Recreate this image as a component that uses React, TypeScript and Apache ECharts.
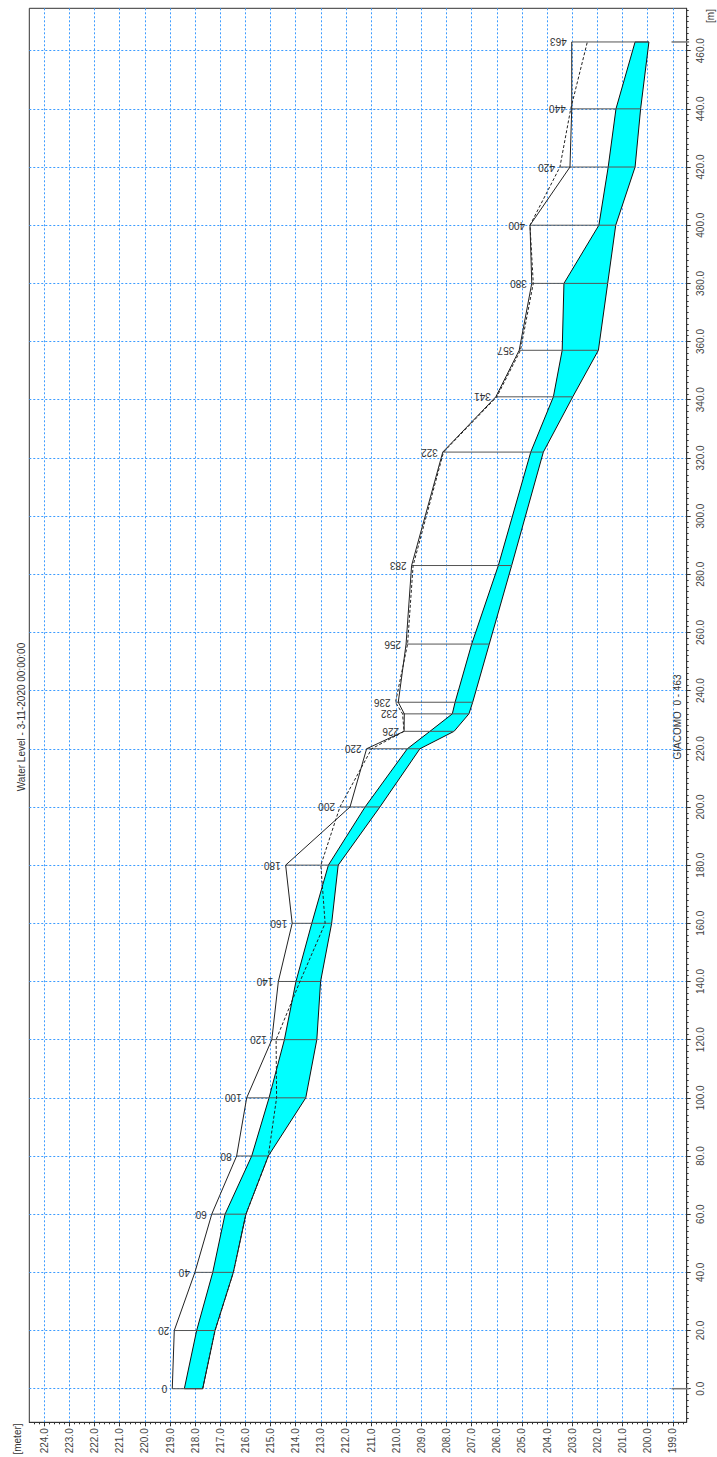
import React, { useEffect, useRef } from 'react';
import * as echarts from 'echarts';

// Cross-section chainages [m] and their labels
const chainages = [0, 20, 40, 60, 80, 100, 120, 140, 160, 180, 200, 220, 226, 232, 236, 256, 283, 322, 341, 357, 380, 400, 420, 440, 463];
const sectionLabels = ['0', '20', '40', '60', '80', '100', '120', '140', '160', '180', '200', '220', '226', '232', '236', '256', '283', '322', '341', '357', '380', '400', '420', '440', '463'];
// Bank levels [meter]
const leftBank = [218.91, 218.83, 218.01, 217.34, 216.35, 215.95, 214.95, 214.69, 214.14, 214.40, 211.84, 211.18, 209.69, 209.68, 209.92, 209.61, 209.39, 208.15, 206.04, 205.11, 204.61, 204.68, 203.09, 203.02, 203.02];
const rightBank = [217.70, 217.21, 216.48, 215.98, 215.09, 214.76, 214.78, 213.83, 212.83, 213.00, 212.24, 210.98, 209.69, 209.75, 210.03, 209.55, 209.33, 208.12, 206.00, 205.06, 204.55, 204.68, 203.49, 203.06, 202.40];
// Water surface and bed levels [meter]
const waterLevel = [218.43, 217.94, 217.30, 216.81, 215.75, 215.06, 214.45, 213.99, 213.36, 212.70, 211.24, 209.56, 208.66, 207.77, 207.66, 207.00, 205.94, 204.65, 203.75, 203.40, 203.33, 201.94, 201.57, 201.26, 200.50];
const bedLevel = [217.70, 217.21, 216.48, 215.98, 215.09, 213.60, 213.16, 213.01, 212.57, 212.31, 210.65, 209.06, 207.70, 207.11, 206.96, 206.30, 205.41, 204.15, 202.98, 201.96, 201.59, 201.27, 200.50, 200.28, 199.95];
// Branch ends
const branchEnds = [0, 463];

// Axis ticks
const levelTicks = [224, 223, 222, 221, 220, 219, 218, 217, 216, 215, 214, 213, 212, 211, 210, 209, 208, 207, 206, 205, 204, 203, 202, 201, 200, 199];
const chainageTicks = [0, 20, 40, 60, 80, 100, 120, 140, 160, 180, 200, 220, 240, 260, 280, 300, 320, 340, 360, 380, 400, 420, 440, 460];
const levelMinorTicks: number[] = [];
for (let k = 1986; k <= 2246; k += 2) levelMinorTicks.push(k / 10);
const chainageMinorTicks: number[] = [];
for (let k = -10; k <= 474; k += 2) chainageMinorTicks.push(k);

const LEVEL_MIN = 198.447;
const LEVEL_MAX = 224.597;
const CH_MIN = -11.55;
const CH_MAX = 474.57;

const FONT = '"Liberation Sans", Arial, sans-serif';
const GRID_LINE = { show: true, lineStyle: { color: '#3d9cff', type: [2, 2] as any, width: 1 } };

export default function App() {
  const ref = useRef<HTMLDivElement>(null);
  useEffect(() => {
    if (!ref.current) return;
    const chart = echarts.init(ref.current, undefined, { renderer: 'svg' });
    const option: any = {
      animation: false,
      backgroundColor: '#ffffff',
      grid: { left: 29.3, top: 8.3, right: 30.3, bottom: 34.7, show: true, borderColor: '#333', borderWidth: 1, backgroundColor: 'transparent' },
      xAxis: [
        {
          type: 'value', inverse: true, min: LEVEL_MIN, max: LEVEL_MAX, position: 'bottom',
          axisLine: { show: true, onZero: false, lineStyle: { color: '#333' } },
          axisTick: { show: true, customValues: levelTicks, length: 4, lineStyle: { color: '#333' } },
          axisLabel: { customValues: levelTicks, rotate: 90, margin: 6, fontSize: 10, color: '#444', fontFamily: FONT, formatter: (v: number) => v.toFixed(1) },
          splitLine: GRID_LINE,
        },
        {
          type: 'value', inverse: true, min: LEVEL_MIN, max: LEVEL_MAX, position: 'bottom',
          axisLine: { show: false, onZero: false },
          axisTick: { show: true, customValues: levelMinorTicks, length: 2, lineStyle: { color: '#333' } },
          axisLabel: { show: false },
          splitLine: { show: false },
        },
      ],
      yAxis: [
        {
          type: 'value', min: CH_MIN, max: CH_MAX, position: 'right',
          axisLine: { show: true, onZero: false, lineStyle: { color: '#333' } },
          axisTick: { show: true, customValues: chainageTicks, length: 4, lineStyle: { color: '#333' } },
          axisLabel: { customValues: chainageTicks, rotate: 90, margin: 9, fontSize: 10, color: '#444', fontFamily: FONT, formatter: (v: number) => v.toFixed(1) },
          splitLine: GRID_LINE,
        },
        {
          type: 'value', min: CH_MIN, max: CH_MAX, position: 'right',
          axisLine: { show: false, onZero: false },
          axisTick: { show: true, customValues: chainageMinorTicks, length: 2, lineStyle: { color: '#333' } },
          axisLabel: { show: false },
          splitLine: { show: false },
        },
      ],
      graphic: [
        { type: 'text', x: 21, y: 717, rotation: Math.PI / 2, style: { text: 'Water Level - 3-11-2020 00:00:00', font: '10px ' + FONT, fill: '#333', align: 'center', verticalAlign: 'middle' } },
        { type: 'text', x: 17, y: 1439, rotation: Math.PI / 2, style: { text: '[meter]', font: '10px ' + FONT, fill: '#333', align: 'center', verticalAlign: 'middle' } },
        { type: 'text', x: 710, y: 16, rotation: Math.PI / 2, style: { text: '[m]', font: '10px ' + FONT, fill: '#333', align: 'center', verticalAlign: 'middle' } },
        { type: 'text', x: 677.5, y: 717, rotation: Math.PI / 2, style: { text: 'GIACOMO  0 - 463', font: '10px ' + FONT, fill: '#333', align: 'center', verticalAlign: 'middle' } },
      ],
      series: [
        {
          type: 'custom', name: 'water', z: 2,
          data: [[waterLevel[0], chainages[0]]],
          encode: { x: 0, y: 1 },
          renderItem: (_p: any, api: any) => {
            const pts: number[][] = [];
            for (let i = 0; i < chainages.length; i++) pts.push(api.coord([waterLevel[i], chainages[i]]));
            for (let i = chainages.length - 1; i >= 0; i--) pts.push(api.coord([bedLevel[i], chainages[i]]));
            return { type: 'polygon', shape: { points: pts }, style: { fill: '#00ffff', stroke: '#111', lineWidth: 1 } };
          },
        },
        {
          type: 'custom', name: 'sections', z: 3,
          data: chainages.map((c, i) => [bedLevel[i], c, Math.max(leftBank[i], rightBank[i]), i]),
          encode: { x: 0, y: 1 },
          renderItem: (_p: any, api: any) => {
            const c = api.value(1);
            const p0 = api.coord([api.value(2), c]);
            const p1 = api.coord([api.value(0), c]);
            const idx = api.value(3);
            return {
              type: 'group',
              children: [
                { type: 'line', shape: { x1: p0[0], y1: p0[1], x2: p1[0], y2: p1[1] }, style: { stroke: '#555', lineWidth: 1 } },
                { type: 'text', x: p0[0] - 5, y: p0[1], rotation: Math.PI, style: { text: sectionLabels[idx], font: '10px ' + FONT, fill: '#333', align: 'left', verticalAlign: 'middle' } },
              ],
            };
          },
        },
        {
          type: 'custom', name: 'branchEnds', z: 3,
          data: branchEnds.map((c) => [199.05, c]),
          encode: { x: 0, y: 1 },
          renderItem: (_p: any, api: any) => {
            const c = api.value(1);
            const p0 = api.coord([api.value(0), c]);
            const p1 = api.coord([198.35, c]);
            return { type: 'line', shape: { x1: p0[0], y1: p0[1], x2: p1[0], y2: p1[1] }, style: { stroke: '#777', lineWidth: 1.5 } };
          },
        },
        {
          type: 'line', name: 'Left bank', z: 4, symbol: 'none',
          data: chainages.map((c, i) => [leftBank[i], c]),
          lineStyle: { color: '#222', width: 1 },
        },
        {
          type: 'line', name: 'Right bank', z: 4, symbol: 'none',
          data: chainages.map((c, i) => [rightBank[i], c]),
          lineStyle: { color: '#222', width: 1, type: [3, 2] },
        },
      ],
    };
    chart.setOption(option);
    return () => chart.dispose();
  }, []);
  return <div ref={ref} style={{ position: 'absolute', left: 0, top: 0, width: 717, height: 1457 }} />;
}
